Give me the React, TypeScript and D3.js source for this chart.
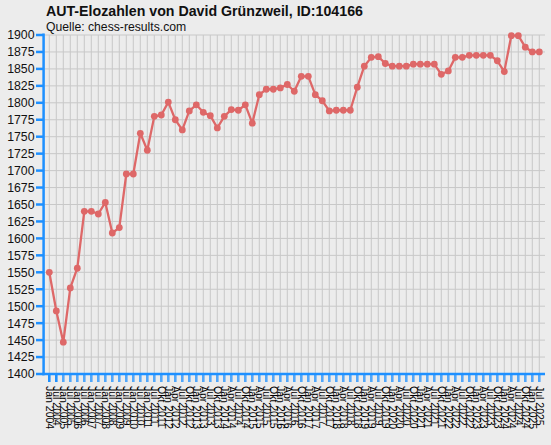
import React from "react";
import * as d3 from "d3";

const TITLE = "AUT-Elozahlen von David Grünzweil, ID:104166";
const SUBTITLE = "Quelle: chess-results.com";

const dates = [
  "Jan 2004", "Jul 2004", "Jan 2005", "Jul 2005", "Jan 2006", "Jul 2006", "Jan 2007", "Jul 2007",
  "Jan 2008", "Jul 2008", "Jan 2009", "Jul 2009", "Jan 2010", "Jul 2010", "Jan 2011", "Jul 2011",
  "Okt 2011",
  "Jan 2012", "Apr 2012", "Jul 2012", "Okt 2012",
  "Jan 2013", "Apr 2013", "Jul 2013", "Okt 2013",
  "Jan 2014", "Apr 2014", "Jul 2014", "Okt 2014",
  "Jan 2015", "Apr 2015", "Jul 2015", "Okt 2015",
  "Jan 2016", "Apr 2016", "Jul 2016", "Okt 2016",
  "Jan 2017", "Apr 2017", "Jul 2017", "Okt 2017",
  "Jan 2018", "Apr 2018", "Jul 2018", "Okt 2018",
  "Jan 2019", "Apr 2019", "Jul 2019", "Okt 2019",
  "Jan 2020", "Apr 2020", "Jul 2020", "Okt 2020",
  "Jan 2021", "Apr 2021", "Jul 2021", "Okt 2021",
  "Jan 2022", "Apr 2022", "Jul 2022", "Okt 2022",
  "Jan 2023", "Apr 2023", "Jul 2023", "Okt 2023",
  "Jan 2024", "Apr 2024", "Jul 2024", "Okt 2024",
  "Jan 2025", "Jul 2025",
];

const elo = [
  1550, 1493, 1447, 1527, 1556, 1640, 1640, 1636, 1653, 1608,
  1616, 1695, 1695, 1755, 1730, 1780, 1782, 1801, 1775, 1760,
  1788, 1797, 1786, 1781, 1763, 1780, 1790, 1789, 1797, 1770,
  1812, 1820, 1820, 1822, 1827, 1817, 1839, 1839, 1812, 1803,
  1788, 1789, 1789, 1789, 1823, 1854, 1867, 1868, 1858, 1854,
  1854, 1854, 1857, 1857, 1857, 1857, 1842, 1847, 1867, 1867,
  1870, 1870, 1870, 1870, 1862, 1846, 1899, 1899, 1882, 1875,
  1875,
];

const yTicks = d3.range(1400, 1901, 25);

const W = 551;
const H = 445;
const BG = "#ececec";
const GRID = "#c8c8c8";
const AXIS = "#1e90ff";
const LINE = "#de6868";
const FONT = "'Liberation Sans', Arial, sans-serif";

export default function App() {
  const x = d3.scalePoint<string>().domain(dates).range([49.3, 539.3]);
  const y = d3.scaleLinear().domain([1400, 1900]).range([374, 35]);
  const axisX = 43.6;
  const plotRight = 545;
  const baseY = 374;

  const pts = dates.map((d, i) => ({ d, v: elo[i] }));
  const line = d3
    .line<{ d: string; v: number }>()
    .x((p) => x(p.d) as number)
    .y((p) => y(p.v));

  return (
    <svg
      width={W}
      height={H}
      style={{ position: "absolute", left: 0, top: 0, display: "block" }}
      fontFamily={FONT}
    >
      <rect x={0} y={0} width={W} height={H} fill={BG} />
      {/* grid */}
      {yTicks.map((t) => (
        <line key={"h" + t} x1={axisX} x2={plotRight} y1={y(t)} y2={y(t)} stroke={GRID} strokeWidth={1} />
      ))}
      {dates.map((d) => (
        <line key={"v" + d} x1={x(d)} x2={x(d)} y1={y(1900)} y2={baseY} stroke={GRID} strokeWidth={1} />
      ))}
      {/* title */}
      <text x={46} y={16} fontSize={14.2} fontWeight="bold" fill="#111">
        {TITLE}
      </text>
      <text x={46} y={30.5} fontSize={12.2} fill="#111">
        {SUBTITLE}
      </text>
      {/* y axis */}
      <line x1={axisX} x2={axisX} y1={33.5} y2={baseY + 1.2} stroke={AXIS} strokeWidth={2.5} />
      {yTicks.map((t) => (
        <g key={"yt" + t}>
          <line x1={36} x2={axisX} y1={y(t)} y2={y(t)} stroke={AXIS} strokeWidth={2.5} />
          <text x={34.5} y={y(t) + 4.4} fontSize={12.3} textAnchor="end" fill="#111">
            {t}
          </text>
        </g>
      ))}
      {/* x axis */}
      <line x1={axisX - 1.2} x2={plotRight} y1={baseY} y2={baseY} stroke={AXIS} strokeWidth={2.5} />
      {dates.map((d, i) => (
        <line
          key={"xt" + d}
          x1={x(d)}
          x2={x(d)}
          y1={baseY}
          y2={382}
          stroke={AXIS}
          strokeWidth={2.6}
          strokeOpacity={i < 2 ? 1 : 0.75}
        />
      ))}
      {dates.map((d) => (
        <text
          key={"xl" + d}
          transform={`translate(${(x(d) as number) - 3.6},386) rotate(90)`}
          fontSize={10.5}
          fill="#000"
        >
          {d}
        </text>
      ))}
      {/* data */}
      <path d={line(pts) || ""} fill="none" stroke={LINE} strokeWidth={2.3} strokeLinejoin="round" />
      {pts.map((p) => (
        <circle key={"c" + p.d} cx={x(p.d)} cy={y(p.v)} r={3.4} fill={LINE} />
      ))}
    </svg>
  );
}
